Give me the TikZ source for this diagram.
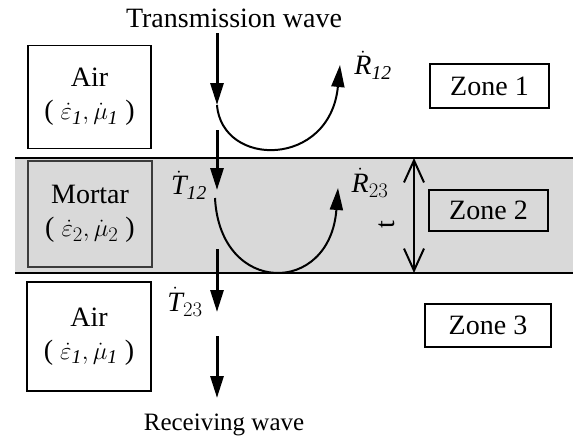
\documentclass[tikz,border=0pt]{standalone}
\usepackage{fontspec}
\setmainfont{Liberation Serif}
\usetikzlibrary{arrows.meta}

\definecolor{MortarColor}{HTML}{D9D9D9}
\definecolor{MortarEdge}{HTML}{3C3C3C}

\begin{document}
\begin{tikzpicture}[x=1pt,y=-1pt,
  txt/.style={font=\fontsize{28}{33}\selectfont},
  mediumbox/.style={txt,draw,line width=1.3pt,align=center,inner sep=0pt},
  zonebox/.style={txt,draw,line width=1.3pt,minimum width=120pt,minimum height=43pt,inner sep=0pt},
  wave/.style={line width=3pt,-{Triangle[length=22pt,width=13pt]}},
  bounce/.style={line width=2pt,-{Triangle[length=22pt,width=13pt]}},
  thick arrow/.style={line width=2pt,{Straight Barb[length=22pt,width=20pt]}-{Straight Barb[length=22pt,width=20pt]}}]
  % ===== Marco =====
  \useasboundingbox (0,0) rectangle (573,437);

  % ===== Capa de mortero =====
  \fill[MortarColor] (15,158) rectangle (573,273);
  \draw[line width=1.5pt] (15,158) -- (573,158);
  \draw[line width=1.5pt] (15,273) -- (573,273);

  % ===== Medios =====
  \node[mediumbox,minimum width=123pt,minimum height=103pt] (airtop) at (89.5,97)
       {Air\\( $\dot{\varepsilon}_{\mathit{1}},\dot{\mu}_{\mathit{1}}$ )};
  \node[mediumbox,fill=MortarColor,draw=MortarEdge,minimum width=124pt,minimum height=106pt] (mortar) at (90,214)
       {Mortar\\( $\dot{\varepsilon}_{2},\dot{\mu}_{2}$ )};
  \node[mediumbox,minimum width=124pt,minimum height=109pt] (airbot) at (89,336.5)
       {Air\\( $\dot{\varepsilon}_{\mathit{1}},\dot{\mu}_{\mathit{1}}$ )};

  % ===== Zonas =====
  \node[zonebox,minimum width=119pt,minimum height=44pt] (zone1) at (489.5,86) {Zone 1};
  \node[zonebox,minimum width=119pt,minimum height=41pt] (zone2) at (488.5,210.5) {Zone 2};
  \node[zonebox,minimum width=126pt,minimum height=43pt] (zone3) at (488,325.5) {Zone 3};

  % ===== Textos de onda =====
  \node[txt,anchor=base] (trans) at (234,27) {Transmission wave};
  \node[txt,anchor=base,font=\fontsize{25}{30}\selectfont] (recv) at (224,430) {Receiving wave};

  % ===== Coeficientes =====
  \node[txt] (r12) at (373,65) {$\dot{\mathit{R}}_{\mathit{12}}$};
  \node[txt] (t12) at (189,185) {$\dot{\mathit{T}}_{\mathit{12}}$};
  \node[txt] (r23) at (370,183) {$\dot{\mathit{R}}_{23}$};
  \node[txt] (t23) at (185,302) {$\dot{\mathit{T}}_{23}$};

  % ===== Trayectoria principal =====
  \coordinate (w0) at (217,33);
  \coordinate (w1) at (217,105);
  \coordinate (w2) at (217,130);
  \coordinate (w3) at (217,190);
  \coordinate (w4) at (217,249);
  \coordinate (w5) at (217,312);
  \coordinate (w6) at (217,336);
  \coordinate (w7) at (217,398);
  \draw[wave] (w0) -- (w1);
  \draw[wave] (w2) -- (w3);
  \draw[wave] (w4) -- (w5);
  \draw[wave] (w6) -- (w7);

  % ===== Reflexiones =====
  \coordinate (b1) at (340,65);
  \coordinate (c0) at (215,198);
  \coordinate (b2) at (338,188);
  \draw[bounce] (w1) .. controls (222,168) and (330,168) .. (b1);
  \draw[bounce] (c0) .. controls (220,296) and (330,296) .. (b2);

  % ===== Espesor =====
  \coordinate (thtop) at (414,158);
  \coordinate (thbot) at (414,273);
  \draw[thick arrow] (thtop) -- (thbot);
  \node[txt,rotate=90] (thk) at (387,225) {t};
\end{tikzpicture}
\end{document}
